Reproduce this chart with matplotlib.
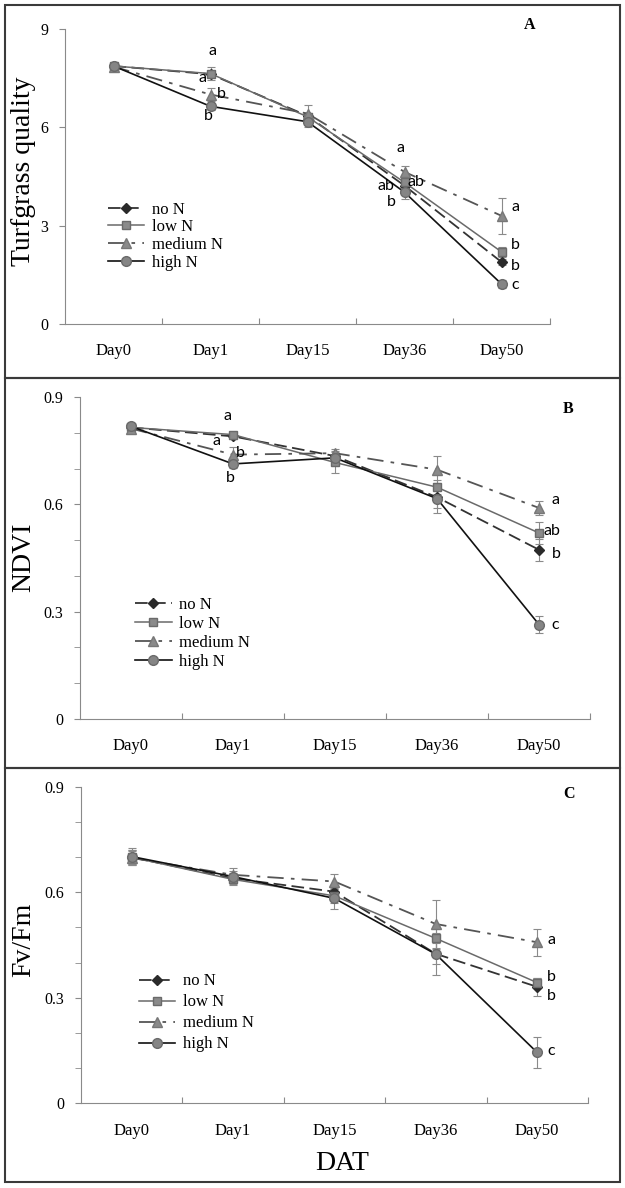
import matplotlib.pyplot as plt
from matplotlib.patches import Rectangle
from matplotlib.ticker import MultipleLocator

plt.rcParams['font.family'] = ['Liberation Serif', 'DejaVu Serif']

days = ["Day0", "Day1", "Day15", "Day36", "Day50"]
labels = ["no N", "low N", "medium N", "high N"]

# A - turfgrass quality
tq_no = [7.87, 7.62, 6.35, 4.22, 1.89]
tq_low = [7.87, 7.64, 6.32, 4.32, 2.20]
tq_med = [7.85, 7.00, 6.42, 4.64, 3.30]
tq_high = [7.87, 6.64, 6.17, 4.02, 1.22]
tq_no_err = [0.05, 0.10, 0.10, 0.12, 0.10]
tq_low_err = [0.05, 0.20, 0.12, 0.15, 0.15]
tq_med_err = [0.05, 0.20, 0.25, 0.18, 0.55]
tq_high_err = [0.05, 0.10, 0.15, 0.20, 0.13]
tq_letters = [("a", 1.02, 8.33), ("a", 0.92, 7.50), ("b", 1.11, 7.02), ("b", 0.98, 6.35),
              ("a", 2.96, 5.37), ("ab", 2.81, 4.21), ("ab", 3.12, 4.33), ("b", 2.86, 3.72),
              ("a", 4.14, 3.57), ("b", 4.14, 2.41), ("b", 4.14, 1.77), ("c", 4.14, 1.19)]

# B - NDVI
nd_no = [0.815, 0.790, 0.735, 0.620, 0.473]
nd_low = [0.815, 0.795, 0.717, 0.648, 0.520]
nd_med = [0.812, 0.739, 0.743, 0.697, 0.590]
nd_high = [0.818, 0.713, 0.730, 0.616, 0.264]
nd_no_err = [0.005, 0.008, 0.015, 0.03, 0.03]
nd_low_err = [0.005, 0.008, 0.030, 0.02, 0.03]
nd_med_err = [0.005, 0.020, 0.012, 0.037, 0.02]
nd_high_err = [0.005, 0.010, 0.010, 0.040, 0.023]
nd_letters = [("a", 0.95, 0.846), ("a", 0.84, 0.776), ("b", 1.07, 0.743), ("b", 0.97, 0.674),
              ("a", 4.16, 0.613), ("ab", 4.13, 0.525), ("b", 4.17, 0.461), ("c", 4.16, 0.262)]

# C - Fv/Fm
fv_no = [0.700, 0.640, 0.602, 0.425, 0.331]
fv_low = [0.700, 0.637, 0.590, 0.469, 0.343]
fv_med = [0.698, 0.650, 0.631, 0.510, 0.458]
fv_high = [0.702, 0.645, 0.583, 0.424, 0.144]
fv_no_err = [0.02, 0.015, 0.02, 0.03, 0.025]
fv_low_err = [0.02, 0.015, 0.02, 0.03, 0.012]
fv_med_err = [0.02, 0.020, 0.02, 0.068, 0.038]
fv_high_err = [0.025, 0.015, 0.03, 0.060, 0.045]
fv_letters = [("a", 4.14, 0.464), ("b", 4.14, 0.360), ("b", 4.14, 0.305), ("c", 4.14, 0.148)]

# line styles for no N, low N, medium N, high N
styles = [
    dict(color='#333333', ls=(0, (7, 3)), marker='D', ms=5, mfc='#2a2a2a', mec='#2a2a2a', lw=1.3),
    dict(color='#6a6a6a', ls='-', marker='s', ms=6, mfc='#8a8a8a', mec='#6a6a6a', lw=1.1),
    dict(color='#555555', ls=(0, (9, 4, 2, 4)), marker='^', ms=7, mfc='#8a8a8a', mec='#777777', lw=1.3),
    dict(color='#111111', ls='-', marker='o', ms=7, mfc='#858585', mec='#6a6a6a', lw=1.2),
]

fig = plt.figure(figsize=(6.25, 11.88), dpi=100)

# panel frames
for y0, y1 in [(5, 378), (378, 768), (768, 1182)]:
    fig.patches.append(Rectangle((5 / 625, 1 - y1 / 1188), 615 / 625, (y1 - y0) / 1188,
                                 transform=fig.transFigure, fill=False, ec='#3a3a3a', lw=1.5))


def draw_panel(rect, series, errs, letters, ymax, ystep, yminor, fmt, ylabel, ylab_y, tag, tag_xy, leg_xy, leg_space):
    ax = fig.add_axes(rect)
    x = list(range(len(days)))
    handles = []
    for vals, err, lab, st in zip(series, errs, labels, styles):
        cont = ax.errorbar(x, vals, yerr=err, label=lab, ecolor='#8a8a8a', elinewidth=0.8, capsize=3,
                           capthick=0.8, **st)
        handles.append(cont[0])
    ax.set_xlim(-0.5, 4.5)
    ax.set_ylim(0, ymax)
    for s in ['top', 'right']:
        ax.spines[s].set_visible(False)
    for s in ['left', 'bottom']:
        ax.spines[s].set_color('#8a8a8a')
    ax.set_yticks([i * ystep for i in range(4)])
    ax.set_yticklabels([fmt.format(i * ystep) for i in range(4)], fontsize=11.5)
    if yminor:
        ax.yaxis.set_minor_locator(MultipleLocator(yminor))
    ax.tick_params(axis='y', which='both', direction='out', length=4, color='#8a8a8a', pad=8)
    # ticks at category boundaries, labels at centers
    ax.set_xticks([0.5, 1.5, 2.5, 3.5, 4.5])
    ax.set_xticklabels([])
    ax.tick_params(axis='x', which='major', direction='in', length=4, color='#8a8a8a')
    ax.set_xticks(x, minor=True)
    ax.set_xticklabels(days, minor=True, fontsize=12)
    ax.tick_params(axis='x', which='minor', length=0, pad=14)

    for txt, lx, ly in letters:
        ax.text(lx, ly, txt, ha='center', va='center', fontsize=11.5, family=['Lato', 'DejaVu Sans'])

    fig.text(0.038, ylab_y, ylabel, rotation=90, ha='center', va='center', fontsize=20)
    fig.text(tag_xy[0], tag_xy[1], tag, ha='center', va='center', fontsize=11.5, fontweight='bold')

    ax.legend(handles, labels, loc='upper left', bbox_to_anchor=leg_xy, frameon=False, fontsize=12,
              handlelength=2.2, handletextpad=0.45, labelspacing=leg_space,
              borderpad=0, borderaxespad=0)
    return ax


draw_panel([0.104, 0.7273, 0.776, 0.2483],
           [tq_no, tq_low, tq_med, tq_high],
           [tq_no_err, tq_low_err, tq_med_err, tq_high_err],
           tq_letters, 9, 3, None, "{:.0f}", "Turfgrass quality", 0.856,
           "A", (0.848, 0.979), (0.088, 0.415), 0.1)

draw_panel([0.128, 0.3948, 0.816, 0.271],
           [nd_no, nd_low, nd_med, nd_high],
           [nd_no_err, nd_low_err, nd_med_err, nd_high_err],
           nd_letters, 0.9, 0.3, 0.1, "{:g}", "NDVI", 0.531,
           "B", (0.909, 0.656), (0.108, 0.378), 0.18)

draw_panel([0.1296, 0.0715, 0.811, 0.266],
           [fv_no, fv_low, fv_med, fv_high],
           [fv_no_err, fv_low_err, fv_med_err, fv_high_err],
           fv_letters, 0.9, 0.3, 0.1, "{:g}", "Fv/Fm", 0.209,
           "C", (0.91, 0.332), (0.114, 0.41), 0.3)

fig.text(0.547, 0.021, "DAT", ha='center', va='center', fontsize=20)

plt.savefig("out.png", dpi=100)
